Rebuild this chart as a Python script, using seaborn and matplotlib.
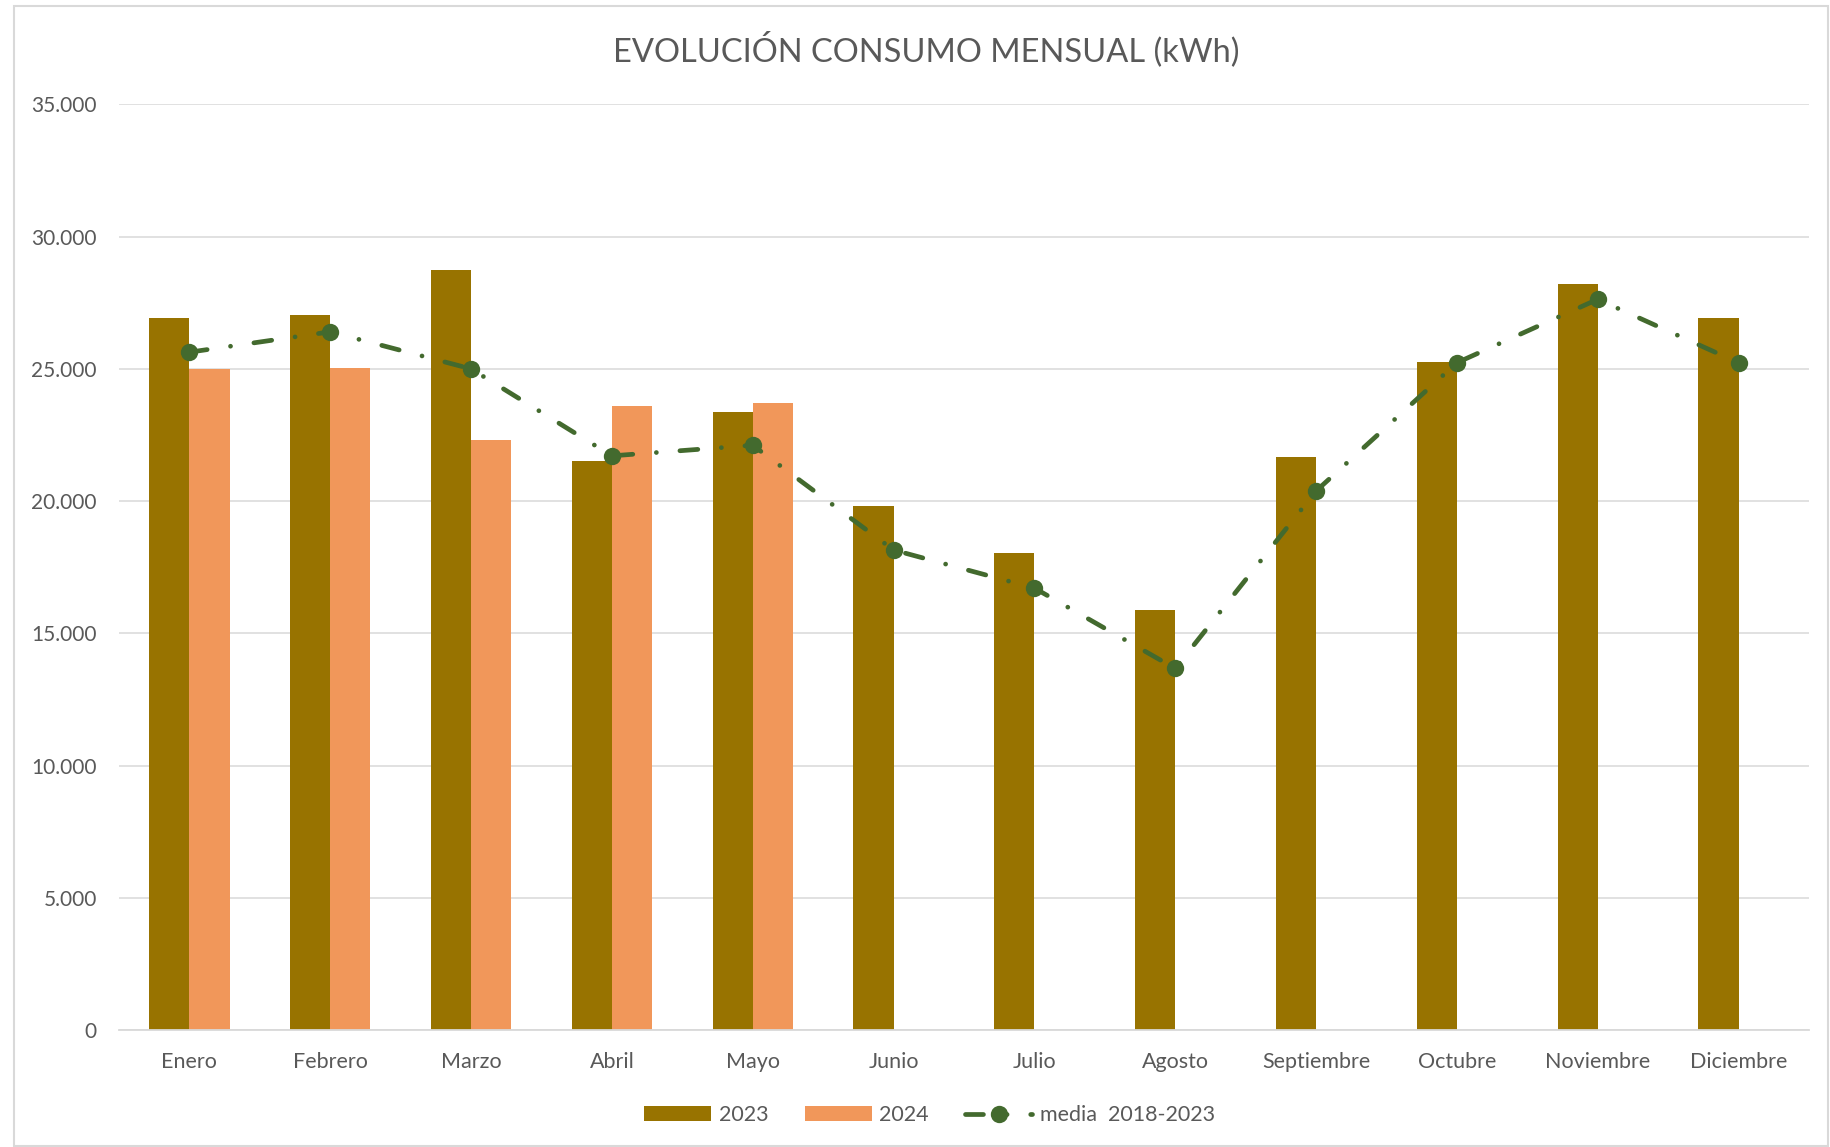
import numpy as np
import pandas as pd
import seaborn as sns
import matplotlib.pyplot as plt
from matplotlib.patches import Rectangle
from matplotlib.ticker import FuncFormatter

# datos
meses = ['Enero', 'Febrero', 'Marzo', 'Abril', 'Mayo', 'Junio', 'Julio',
         'Agosto', 'Septiembre', 'Octubre', 'Noviembre', 'Diciembre']
consumo_2023 = [26910, 27030, 28740, 21500, 23360, 19800, 18040,
                15870, 21670, 25250, 28220, 26930]
consumo_2024 = [24980, 25030, 22300, 23610, 23700, np.nan, np.nan,
                np.nan, np.nan, np.nan, np.nan, np.nan]
media_2018_2023 = [25630, 26400, 25000, 21710, 22110, 18150, 16710,
                   13670, 20380, 25230, 27630, 25230]
series = ['2023', '2024']
etiqueta_media = 'media  2018-2023'

color_2023 = '#987300'
color_2024 = '#f1975a'
color_media = '#436a2e'
gris_texto = '#595959'
gris_linea = '#d9d9d9'

sns.set_style('white')
plt.rcParams['font.family'] = ['Lato', 'DejaVu Sans']

df = pd.DataFrame({
    'mes': meses * 2,
    'serie': [series[0]] * 12 + [series[1]] * 12,
    'kWh': consumo_2023 + consumo_2024,
})

fig, ax = plt.subplots(figsize=(18.3, 11.47), dpi=100)
fig.subplots_adjust(left=0.065, right=0.9885, bottom=0.102, top=0.909)

sns.barplot(data=df, x='mes', y='kWh', hue='serie', order=meses,
            hue_order=series, palette=[color_2023, color_2024],
            width=0.57, gap=0, dodge=True, errorbar=None, saturation=1,
            linewidth=0, ax=ax, zorder=2)

sns.lineplot(x=np.arange(len(meses)), y=media_2018_2023, ax=ax,
             color=color_media, linewidth=3.4,
             linestyle=(0, (3.8, 5, 0.01, 5)), dash_capstyle='round',
             marker='o', markersize=12.5, markeredgewidth=0,
             label=etiqueta_media, zorder=3)

ax.set_xlim(-0.5, 11.5)
ax.set_ylim(0, 35000)
ax.set_yticks(np.arange(0, 35001, 5000))
ax.yaxis.set_major_formatter(FuncFormatter(lambda v, p: f'{int(v):,}'.replace(',', '.')))
ax.grid(axis='y', color=gris_linea, linewidth=1.1, zorder=0)
ax.set_axisbelow(True)
ax.set_xlabel('')
ax.set_ylabel('')
for lado in ['top', 'right', 'left']:
    ax.spines[lado].set_visible(False)
ax.spines['bottom'].set_color(gris_linea)
ax.spines['bottom'].set_linewidth(1.3)
ax.tick_params(axis='x', length=0, pad=16, labelsize=15.5, labelcolor=gris_texto)
ax.tick_params(axis='y', length=0, pad=16, labelsize=15, labelcolor=gris_texto)

handles, labels = ax.get_legend_handles_labels()
ax.get_legend().remove()
fig.legend(handles, labels, loc='center', bbox_to_anchor=(0.508, 0.028),
           ncol=3, frameon=False, fontsize=15.5, labelcolor=gris_texto,
           handlelength=3.1, handleheight=0.65, handletextpad=0.35,
           columnspacing=1.7)

fig.text(0.506, 0.957, 'EVOLUCIÓN CONSUMO MENSUAL (kWh)', ha='center',
         va='center', fontsize=23.5, color=gris_texto)

# borde del area del grafico
fig.patches.append(Rectangle((0.0075, 0.001), 0.9915, 0.994,
                             transform=fig.transFigure, fill=False,
                             edgecolor=gris_linea, linewidth=1.5))

fig.savefig('out.png', dpi=100)
